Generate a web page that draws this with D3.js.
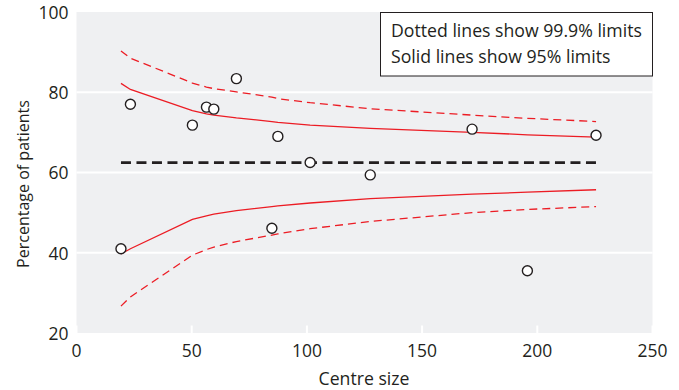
<!DOCTYPE html>
<html>
<head>
<meta charset="utf-8">
<script src="https://cdn.jsdelivr.net/npm/d3@7"></script>
<style>
  html, body { margin: 0; padding: 0; background: #fff; }
  svg { display: block; }
  text { font-family: "Open Sans", "Noto Sans", sans-serif; fill: #231f20; }
</style>
</head>
<body>
<svg id="chart" width="679" height="390"></svg>
<script>
// ---- data ----
const centreSizes = [19.3, 23.4, 50.3, 56.4, 59.6, 69.4, 84.8, 87.4, 101.4, 127.5, 171.7, 195.7, 225.5];
const percentages = [41.0, 77.0, 71.8, 76.3, 75.8, 83.4, 46.1, 69.0, 62.5, 59.4, 70.8, 35.5, 69.3];
const upper95  = [82.2, 80.7, 75.4, 74.6, 74.3, 73.6, 72.7, 72.5, 71.8, 71.0, 70.0, 69.4, 68.8];
const lower95  = [39.7, 41.0, 48.3, 49.2, 49.6, 50.5, 51.5, 51.7, 52.4, 53.5, 54.6, 55.1, 55.7];
const upper999 = [90.3, 88.5, 82.3, 81.3, 80.9, 80.1, 78.8, 78.4, 77.4, 75.9, 74.3, 73.5, 72.7];
const lower999 = [26.7, 29.0, 39.4, 40.8, 41.4, 42.8, 44.4, 44.7, 46.0, 47.8, 50.0, 50.8, 51.5];
const overallMean = 62.45;
const xTicks = [0, 50, 100, 150, 200, 250];
const yTicks = [20, 40, 60, 80, 100];
const legendLines = ["Dotted lines show 99.9% limits", "Solid lines show 95% limits"];
const xTitle = "Centre size";
const yTitle = "Percentage of patients";

// ---- layout ----
const svg = d3.select("#chart");
const plot = { left: 76.5, right: 652.5, top: 12, bottom: 333 };
const x = d3.scaleLinear().domain([0, 250]).range([plot.left, plot.right]);
const y = d3.scaleLinear().domain([20, 100]).range([plot.bottom, plot.top]);
const red = "#ec1c24";

// fit text to a measured width
function fit(sel, target) {
  const w = sel.node().getComputedTextLength();
  const fs = parseFloat(sel.attr("font-size"));
  sel.attr("font-size", (fs * target / w).toFixed(2));
}

// background
svg.append("rect")
  .attr("x", plot.left).attr("y", plot.top)
  .attr("width", plot.right - plot.left).attr("height", plot.bottom - plot.top)
  .attr("fill", "#eff0f2");

// horizontal gridlines
svg.append("g").selectAll("line").data(yTicks.filter(d => d > 20 && d < 100)).join("line")
  .attr("x1", plot.left).attr("x2", plot.right)
  .attr("y1", d => y(d)).attr("y2", d => y(d))
  .attr("stroke", "#fff").attr("stroke-width", 2);

// x ticks (white, inside)
svg.append("g").selectAll("line").data(xTicks).join("line")
  .attr("x1", d => x(d)).attr("x2", d => x(d))
  .attr("y1", plot.bottom - 7.5).attr("y2", plot.bottom)
  .attr("stroke", "#fff").attr("stroke-width", 2);

// axis labels
const xl = svg.append("g").selectAll("text").data(xTicks).join("text")
  .attr("x", d => x(d)).attr("y", 357)
  .attr("text-anchor", "middle").attr("font-size", 17)
  .text(d => d);
const yl = svg.append("g").selectAll("text").data(yTicks).join("text")
  .attr("x", 68.5).attr("y", d => y(d) + 6.8)
  .attr("text-anchor", "end").attr("font-size", 17)
  .text(d => d);
// size y labels so "100" is 30px wide
{
  const n = yl.filter(d => d === 100).node();
  const w = n.getComputedTextLength();
  const fs = 17 * 30 / w;
  xl.attr("font-size", fs.toFixed(2));
  yl.attr("font-size", fs.toFixed(2));
}

const xt = svg.append("text").attr("x", 364).attr("y", 385)
  .attr("text-anchor", "middle").attr("font-size", 17).text(xTitle);
fit(xt, 91);
const yt = svg.append("text")
  .attr("transform", "translate(29,184) rotate(-90)")
  .attr("text-anchor", "middle").attr("font-size", 17).text(yTitle);
fit(yt, 168);

// lines
const rows = centreSizes.map((s, i) => ({ s, u95: upper95[i], l95: lower95[i], u999: upper999[i], l999: lower999[i] }));
const mk = key => d3.line().x(d => x(d.s)).y(d => y(d[key]));

[["u999", true], ["l999", true], ["u95", false], ["l95", false]].forEach(([k, dashed]) => {
  svg.append("path").datum(rows)
    .attr("d", mk(k))
    .attr("fill", "none").attr("stroke", red)
    .attr("stroke-width", 1.3)
    .attr("stroke-dasharray", dashed ? "8,5" : null);
});

// mean line
svg.append("line")
  .attr("x1", x(centreSizes[0])).attr("x2", x(centreSizes[centreSizes.length - 1]))
  .attr("y1", y(overallMean)).attr("y2", y(overallMean))
  .attr("stroke", "#231f20").attr("stroke-width", 2.8)
  .attr("stroke-dasharray", "10,5.5");

// points
svg.append("g").selectAll("circle").data(centreSizes).join("circle")
  .attr("cx", d => x(d)).attr("cy", (d, i) => y(percentages[i]))
  .attr("r", 5).attr("fill", "#fff")
  .attr("stroke", "#231f20").attr("stroke-width", 1.4);

// legend
svg.append("rect").attr("x", 380.5).attr("y", 12.5).attr("width", 272).attr("height", 63.5)
  .attr("fill", "#fff").attr("stroke", "#231f20").attr("stroke-width", 1);
const lt = svg.append("g").selectAll("text").data(legendLines).join("text")
  .attr("x", 391).attr("y", (d, i) => 36.7 + i * 26)
  .attr("font-size", 17).text(d => d);
{
  const n = lt.nodes()[0];
  const w = n.getComputedTextLength();
  lt.attr("font-size", (17 * 251 / w).toFixed(2));
}
</script>
</body>
</html>
